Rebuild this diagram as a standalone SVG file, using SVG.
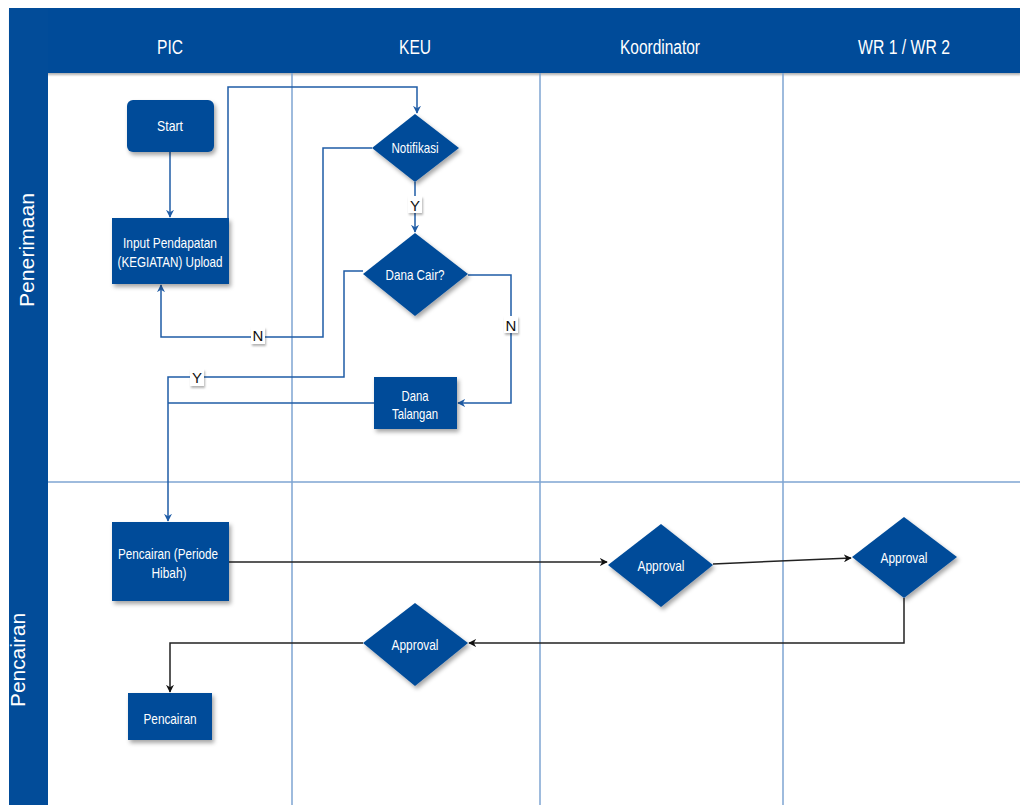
<svg xmlns="http://www.w3.org/2000/svg" width="1020" height="805" viewBox="0 0 1020 805">
<defs>
<filter id="sh" x="-20%" y="-20%" width="150%" height="150%">
<feDropShadow dx="2" dy="3" stdDeviation="2" flood-color="#000" flood-opacity="0.35"/>
</filter>
<filter id="shl" x="-50%" y="-50%" width="200%" height="200%">
<feDropShadow dx="1" dy="2" stdDeviation="1.2" flood-color="#000" flood-opacity="0.3"/>
</filter>
<marker id="ab" viewBox="0 0 10 10" refX="9" refY="5" markerWidth="8" markerHeight="8" markerUnits="userSpaceOnUse" orient="auto">
<path d="M0,0 L10,5 L0,10 L3,5 Z" fill="#1f5ca6"/>
</marker>
<marker id="ak" viewBox="0 0 10 10" refX="9" refY="5" markerWidth="8" markerHeight="8" markerUnits="userSpaceOnUse" orient="auto">
<path d="M0,0 L10,5 L0,10 L3,5 Z" fill="#111"/>
</marker>
</defs>
<style>
.band{fill:#024c99}
.lane{stroke:#7ea4d2;stroke-width:1.5;fill:none}
.node{fill:#024c99;filter:url(#sh)}
text{font-family:"Liberation Sans",Arial,sans-serif;text-anchor:middle;dominant-baseline:central}
.t{fill:#fff;font-size:15px}
.h{fill:#fff;font-size:20px}
.v{fill:#fff;font-size:20px}
.cb{stroke:#1f5ca6;stroke-width:1.5;fill:none}
.ck{stroke:#222;stroke-width:1.5;fill:none}
.lb{fill:#fff;filter:url(#shl)}
.lt{fill:#111;font-size:15px}
</style>
<rect width="1020" height="805" fill="#fff"/>
<g id="lanes">
<rect class="band" x="9" y="8" width="1011" height="65" filter="url(#shl)"/>
<rect class="band" x="9" y="8" width="39" height="797"/>
<line class="lane" x1="292" y1="73" x2="292" y2="805"/>
<line class="lane" x1="540" y1="73" x2="540" y2="805"/>
<line class="lane" x1="783" y1="73" x2="783" y2="805"/>
<line class="lane" x1="48" y1="482" x2="1020" y2="482"/>
<text class="h" x="170" y="47" textLength="26" lengthAdjust="spacingAndGlyphs">PIC</text>
<text class="h" x="415" y="47" textLength="32" lengthAdjust="spacingAndGlyphs">KEU</text>
<text class="h" x="660" y="47" textLength="80" lengthAdjust="spacingAndGlyphs">Koordinator</text>
<text class="h" x="904" y="47" textLength="92" lengthAdjust="spacingAndGlyphs">WR 1 / WR 2</text>
<text class="v" transform="rotate(-90 27 250)" x="27" y="250" textLength="114" lengthAdjust="spacingAndGlyphs">Penerimaan</text>
<text class="v" transform="rotate(-90 18 660)" x="18" y="660" textLength="94" lengthAdjust="spacingAndGlyphs">Pencairan</text>
</g>
<g id="connectors">
<path class="cb" d="M170 152 V217" marker-end="url(#ab)"/>
<path class="cb" d="M228 218 V87 H417 V113" marker-end="url(#ab)"/>
<path class="cb" d="M372 148 H323 V337 H161 V285" marker-end="url(#ab)"/>
<path class="cb" d="M415 182 V232" marker-end="url(#ab)"/>
<path class="cb" d="M363 271 H344 V377 H168 V521" marker-end="url(#ab)"/>
<path class="cb" d="M468 275 H511 V403 H458" marker-end="url(#ab)"/>
<path class="cb" d="M374 403 H168"/>
<path class="ck" d="M229 562 H607" marker-end="url(#ak)"/>
<path class="ck" d="M713 564 L851 558" marker-end="url(#ak)"/>
<path class="ck" d="M904 598 V643 H469" marker-end="url(#ak)"/>
<path class="ck" d="M363 643 H170 V692" marker-end="url(#ak)"/>
<rect class="lb" x="251" y="327" width="14" height="17"/>
<text class="lt" x="258" y="335">N</text>
<rect class="lb" x="408" y="196" width="14" height="17"/>
<text class="lt" x="415" y="205">Y</text>
<rect class="lb" x="190" y="369" width="14" height="17"/>
<text class="lt" x="197" y="377">Y</text>
<rect class="lb" x="504" y="316" width="14" height="17"/>
<text class="lt" x="511" y="325">N</text>
</g>
<g id="start">
<rect class="node" x="127" y="100" width="87" height="52" rx="6"/>
<text class="t" x="170" y="125" textLength="26" lengthAdjust="spacingAndGlyphs">Start</text>
</g>
<g id="input">
<rect class="node" x="112" y="218" width="117" height="66"/>
<text class="t" x="170" y="242" textLength="94" lengthAdjust="spacingAndGlyphs">Input Pendapatan</text>
<text class="t" x="170" y="261" textLength="105" lengthAdjust="spacingAndGlyphs">(KEGIATAN) Upload</text>
</g>
<g id="notifikasi">
<polygon class="node" points="415,114 459,148 415,182 372,148"/>
<text class="t" x="415" y="147" textLength="47" lengthAdjust="spacingAndGlyphs">Notifikasi</text>
</g>
<g id="danacair">
<polygon class="node" points="415,233 468,274 415,316 363,274"/>
<text class="t" x="415" y="274" textLength="59" lengthAdjust="spacingAndGlyphs">Dana Cair?</text>
</g>
<g id="danatalangan">
<rect class="node" x="374" y="377" width="83" height="52"/>
<text class="t" x="415" y="395" textLength="27" lengthAdjust="spacingAndGlyphs">Dana</text>
<text class="t" x="415" y="413" textLength="46" lengthAdjust="spacingAndGlyphs">Talangan</text>
</g>
<g id="pencairanperiode">
<rect class="node" x="112" y="522" width="117" height="79"/>
<text class="t" x="168" y="553" textLength="100" lengthAdjust="spacingAndGlyphs">Pencairan (Periode</text>
<text class="t" x="169" y="572" textLength="35" lengthAdjust="spacingAndGlyphs">Hibah)</text>
</g>
<g id="approval1">
<polygon class="node" points="661,524 713,565 661,607 608,565"/>
<text class="t" x="661" y="565" textLength="47" lengthAdjust="spacingAndGlyphs">Approval</text>
</g>
<g id="approval2">
<polygon class="node" points="904,517 957,557 904,598 852,557"/>
<text class="t" x="904" y="557" textLength="47" lengthAdjust="spacingAndGlyphs">Approval</text>
</g>
<g id="approval3">
<polygon class="node" points="415,603 468,643 415,686 363,643"/>
<text class="t" x="415" y="644" textLength="47" lengthAdjust="spacingAndGlyphs">Approval</text>
</g>
<g id="pencairan">
<rect class="node" x="128" y="693" width="84" height="47"/>
<text class="t" x="170" y="718" textLength="53" lengthAdjust="spacingAndGlyphs">Pencairan</text>
</g>
</svg>
